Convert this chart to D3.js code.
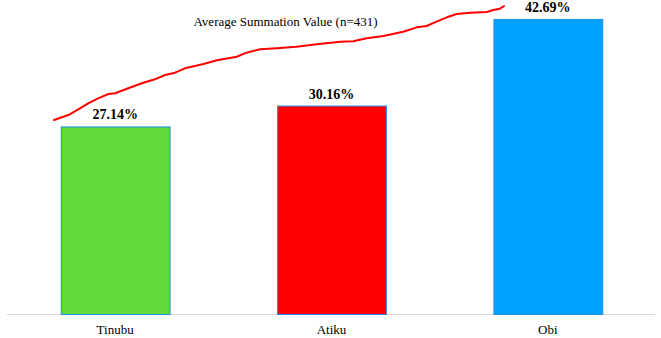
<!DOCTYPE html>
<html>
<head>
<meta charset="utf-8">
<script src="https://cdn.jsdelivr.net/npm/d3@7"></script>
<style>
  html, body { margin: 0; padding: 0; background: #fff; }
  svg { display: block; }
  text { font-family: "Liberation Serif", "DejaVu Serif", serif; }
</style>
</head>
<body>
<svg id="chart" width="661" height="338"></svg>
<script>
const categories = ["Tinubu", "Atiku", "Obi"];
const values = [27.14, 30.16, 42.69];
const valueLabels = ["27.14%", "30.16%", "42.69%"];
const barColors = ["#62d93a", "#ff0000", "#00a2ff"];
const titleText = "Average Summation Value (n=431)";

// Average summation curve: position along sample (0..1) and value (%)
const curveX = [0.000, 0.032, 0.054, 0.076, 0.098, 0.121, 0.136, 0.165, 0.195, 0.224, 0.247, 0.269,
  0.291, 0.313, 0.332, 0.362, 0.406, 0.428, 0.458, 0.495, 0.539, 0.584, 0.636, 0.665, 0.695,
  0.732, 0.776, 0.806, 0.828, 0.850, 0.873, 0.895, 0.924, 0.962, 0.976, 0.991, 1.000];
const curveY = [28.07, 28.79, 29.62, 30.49, 31.21, 31.83, 31.94, 32.66, 33.38, 33.96, 34.58, 34.92,
  35.55, 35.88, 36.17, 36.71, 37.23, 37.81, 38.30, 38.45, 38.68, 39.03, 39.40, 39.46, 39.89,
  40.23, 40.85, 41.48, 41.67, 42.30, 42.93, 43.41, 43.60, 43.70, 43.99, 44.18, 44.57];

const svg = d3.select("#chart");

const x = d3.scaleBand().domain(categories).range([7, 656]).paddingInner(0.497).paddingOuter(0.2485);
const y = d3.scaleLinear().domain([0, 45]).range([314, 3]);
const xc = d3.scaleLinear().domain([0, 1]).range([54, 504]);

// baseline axis
svg.append("line")
  .attr("x1", 7).attr("x2", 655)
  .attr("y1", y(0) + 0.5).attr("y2", y(0) + 0.5)
  .attr("stroke", "#d9d9d9").attr("stroke-width", 1);

// bars
svg.selectAll("rect.bar")
  .data(categories)
  .join("rect")
  .attr("class", "bar")
  .attr("x", d => x(d) + 0.5)
  .attr("y", (d, i) => y(values[i]) + 0.5)
  .attr("width", x.bandwidth())
  .attr("height", (d, i) => y(0) - y(values[i]))
  .attr("fill", (d, i) => barColors[i])
  .attr("stroke", "#1e90e8")
  .attr("stroke-width", 1);

// value labels
svg.selectAll("text.val")
  .data(categories)
  .join("text")
  .attr("class", "val")
  .attr("x", d => x(d) + x.bandwidth() / 2)
  .attr("y", (d, i) => y(values[i]) - 7)
  .attr("text-anchor", "middle")
  .attr("font-weight", "bold")
  .attr("font-size", 14)
  .attr("fill", "#000")
  .text((d, i) => valueLabels[i]);

// category labels
const xAxis = d3.axisBottom(x).tickSize(0).tickPadding(0);
const ax = svg.append("g").attr("transform", `translate(0,${y(0)})`).call(xAxis);
ax.select(".domain").remove();
ax.attr("font-family", null).attr("font-size", null);
ax.selectAll("text")
  .attr("dy", 0).attr("y", 20)
  .attr("font-size", 13)
  .attr("fill", "#000");

// red curve
const line = d3.line()
  .x((d, i) => xc(curveX[i]))
  .y(d => y(d))
  .curve(d3.curveLinear);
svg.append("path")
  .datum(curveY)
  .attr("d", line)
  .attr("fill", "none")
  .attr("stroke", "#ff0000")
  .attr("stroke-width", 2)
  .attr("stroke-linejoin", "round")
  .attr("stroke-linecap", "round");

// title
svg.append("text")
  .attr("x", 285.5).attr("y", 26)
  .attr("text-anchor", "middle")
  .attr("font-size", 13)
  .attr("fill", "#000")
  .text(titleText);
</script>
</body>
</html>
